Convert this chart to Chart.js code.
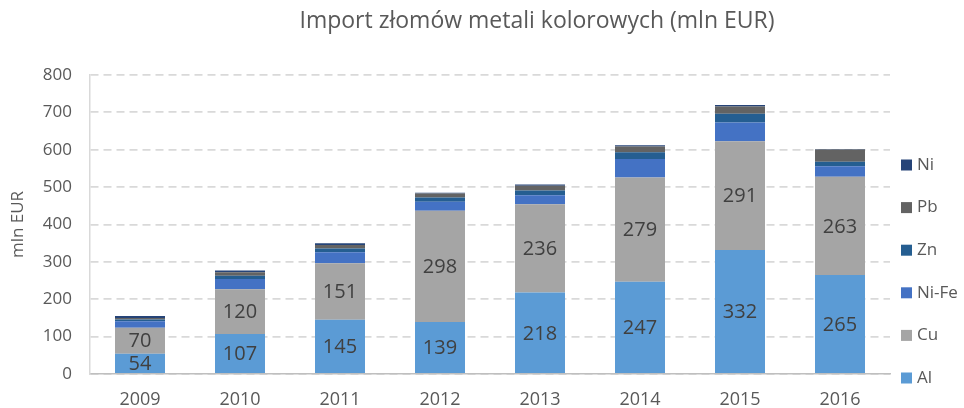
<!DOCTYPE html>
<html>
<head>
<meta charset="utf-8">
<script src="https://cdn.jsdelivr.net/npm/chart.js@4.4.1/dist/chart.umd.min.js"></script>
<style>
  html, body { margin: 0; padding: 0; background: #fff; }
  #wrap { width: 964px; height: 408px; position: relative; }
</style>
</head>
<body>
<div id="wrap"><canvas id="importChart"></canvas></div>
<script>
const years = ['2009', '2010', '2011', '2012', '2013', '2014', '2015', '2016'];
const al = [54, 107, 145, 139, 218, 247, 332, 265];
const cu = [70, 120, 151, 298, 236, 279, 291, 263];
const niFe = [17, 27, 30, 24, 24, 49, 50, 28];
const zn = [5, 9, 10, 11, 13, 18, 23, 12];
const pb = [4, 9, 9, 11, 13, 16, 20, 33];
const ni = [5, 5, 5, 2, 3, 3, 4, 1];
const yTicks = [0, 100, 200, 300, 400, 500, 600, 700, 800];

const FONT = '"Open Sans", "DejaVu Sans", sans-serif';
const TEXT = '#595959';

// title sits over the middle of the plot+legend block, not the canvas
const titlePlugin = {
  id: 'customTitle',
  afterDraw(chart) {
    const ctx = chart.ctx;
    ctx.save();
    ctx.font = '23px ' + FONT;
    ctx.fillStyle = TEXT;
    ctx.textAlign = 'center';
    ctx.textBaseline = 'middle';
    ctx.fillText('Import złomów metali kolorowych (mln EUR)', 537, 21);
    ctx.restore();
  }
};

// legend on the right, reversed order, spaced out like the original
const legendPlugin = {
  id: 'sideLegend',
  afterDraw(chart) {
    const ctx = chart.ctx;
    const sets = chart.data.datasets.slice().reverse();
    ctx.save();
    ctx.font = '17px ' + FONT;
    ctx.textBaseline = 'middle';
    ctx.textAlign = 'left';
    sets.forEach((ds, i) => {
      const y = 165 + i * 42.6;
      ctx.fillStyle = ds.backgroundColor;
      ctx.fillRect(901, y - 5.5, 11, 11);
      ctx.fillStyle = TEXT;
      ctx.fillText(ds.label, 917, y);
    });
    ctx.restore();
  }
};

// value labels inside Al and Cu segments
const valuePlugin = {
  id: 'segmentValues',
  afterDatasetsDraw(chart) {
    const ctx = chart.ctx;
    ctx.save();
    ctx.font = '20px ' + FONT;
    ctx.fillStyle = '#404040';
    ctx.textAlign = 'center';
    ctx.textBaseline = 'middle';
    [0, 1].forEach(di => {
      const meta = chart.getDatasetMeta(di);
      meta.data.forEach((bar, i) => {
        const v = chart.data.datasets[di].data[i];
        ctx.fillText(String(v), bar.x, (bar.y + bar.base) / 2 + 1);
      });
    });
    ctx.restore();
  }
};

function makeSet(label, data, color) {
  return {
    label,
    data,
    backgroundColor: color,
    borderWidth: 0,
    barPercentage: 0.5,
    categoryPercentage: 1
  };
}

new Chart(document.getElementById('importChart'), {
  type: 'bar',
  data: {
    labels: years,
    datasets: [
      makeSet('Al', al, '#5B9BD5'),
      makeSet('Cu', cu, '#A5A5A5'),
      makeSet('Ni-Fe', niFe, '#4472C4'),
      makeSet('Zn', zn, '#255E91'),
      makeSet('Pb', pb, '#636363'),
      makeSet('Ni', ni, '#264478')
    ]
  },
  options: {
    responsive: true,
    maintainAspectRatio: false,
    animation: false,
    layout: { padding: { top: 75, right: 74, left: 0, bottom: 0 } },
    plugins: {
      legend: { display: false },
      title: { display: false },
      tooltip: { enabled: false }
    },
    scales: {
      x: {
        stacked: true,
        grid: { display: false, drawTicks: false },
        border: { display: true, color: '#BFBFBF', width: 1.5 },
        ticks: { color: TEXT, font: { family: FONT, size: 18 }, padding: 15 },
        afterFit: s => { s.height = 34; }
      },
      y: {
        stacked: true,
        min: 0,
        max: 800,
        afterBuildTicks: s => { s.ticks = yTicks.map(v => ({ value: v })); },
        grid: {
          color: '#D9D9D9',
          lineWidth: 1.8,
          drawTicks: false
        },
        border: { display: true, color: '#D9D9D9', width: 1.5, dash: [8, 5] },
        ticks: { color: TEXT, font: { family: FONT, size: 17 }, padding: 18 },
        title: {
          display: true,
          text: 'mln EUR',
          color: TEXT,
          font: { family: FONT, size: 17 },
          padding: { top: 8, bottom: 0 }
        },
        afterFit: s => { s.width = 90; }
      }
    }
  },
  plugins: [titlePlugin, legendPlugin, valuePlugin]
});
</script>
</body>
</html>
